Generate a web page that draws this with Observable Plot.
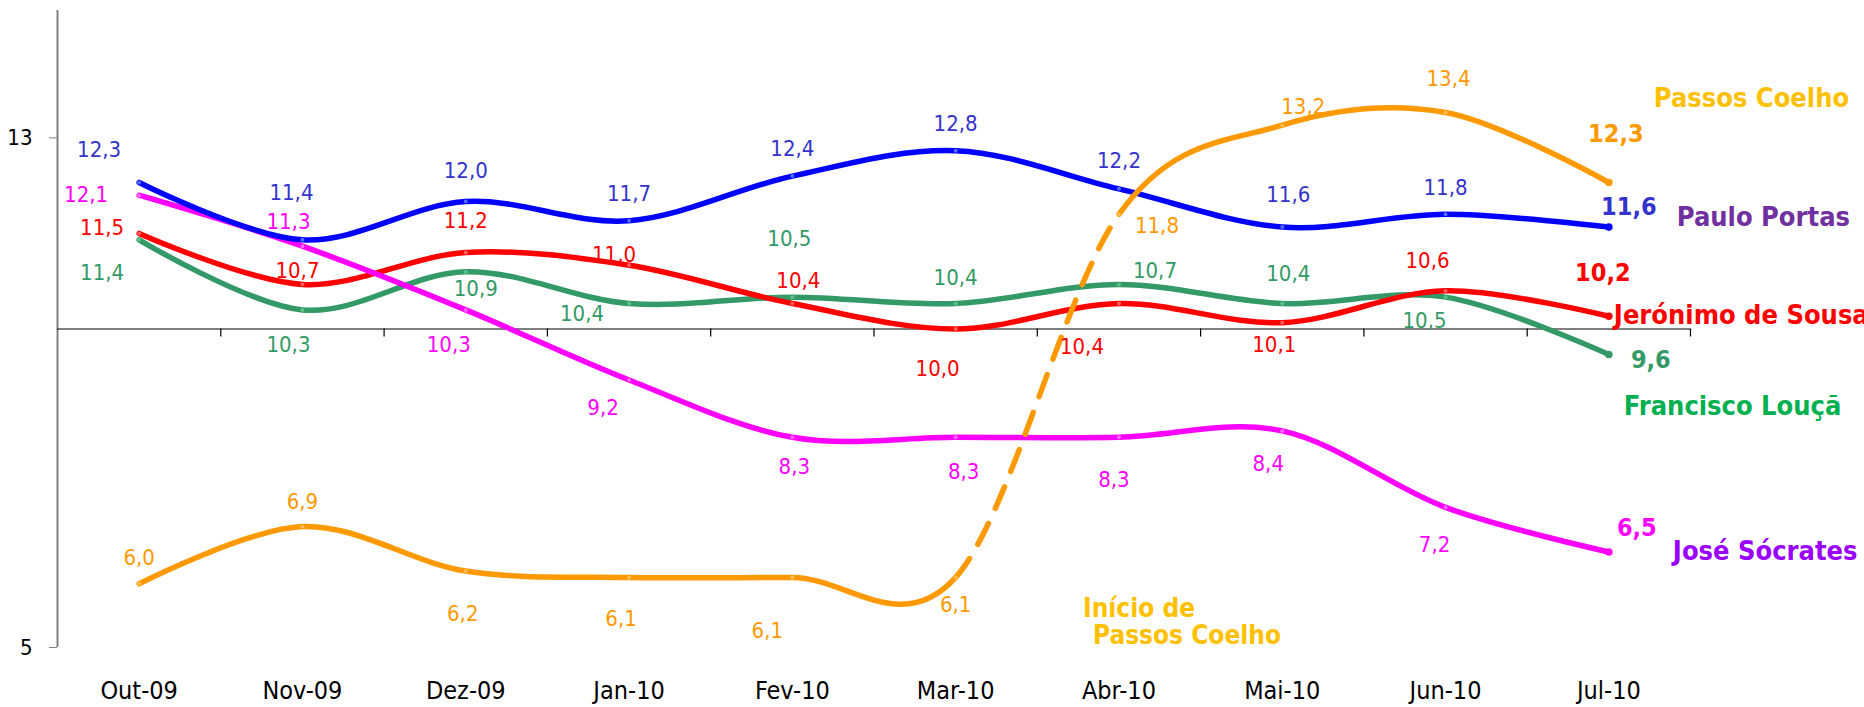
<!DOCTYPE html>
<html>
<head>
<meta charset="utf-8">
<script src="https://cdn.jsdelivr.net/npm/d3@7"></script>
<script src="https://cdn.jsdelivr.net/npm/@observablehq/plot@0.6"></script>
<style>
  html, body { margin: 0; padding: 0; background: #fff; }
  #chart svg { display: block; overflow: visible; }
</style>
</head>
<body>
<div id="chart"></div>
<script>
// ---- data ----
const months = ["Out-09", "Nov-09", "Dez-09", "Jan-10", "Fev-10", "Mar-10", "Abr-10", "Mai-10", "Jun-10", "Jul-10"];
const portas   = [12.3, 11.4, 12.0, 11.7, 12.4, 12.8, 12.2, 11.6, 11.8, 11.6];
const sousa    = [11.5, 10.7, 11.2, 11.0, 10.4, 10.0, 10.4, 10.1, 10.6, 10.2];
const louca    = [11.4, 10.3, 10.9, 10.4, 10.5, 10.4, 10.7, 10.4, 10.5, 9.6];
const socrates = [12.1, 11.3, 10.3, 9.2, 8.3, 8.3, 8.3, 8.4, 7.2, 6.5];
const coelho   = [6.0, 6.9, 6.2, 6.1, 6.1, 6.1, 11.8, 13.2, 13.4, 12.3];
const names = ["Paulo Portas", "Jerónimo de Sousa", "Francisco Louçã", "José Sócrates", "Passos Coelho"];
const yTicks = [5, 13];
const xAxisLevel = 10;
const dashFrom = 5, dashTo = 6; // Mar-10 -> Abr-10 segment of Passos Coelho shown dashed
const annotation = ["Início de", "Passos Coelho"];

// ---- styling (label offsets in px, colours) ----
const labelOffsets = {
  portas:   [[-40,-33],[-11,-47],[0,-31],[0,-27],[0,-27],[0,-27],[0,-28],[6,-32],[0,-26],[20,-20]],
  sousa:    [[-37,-5],[-5,-13],[0,-32],[-15,-10],[6,-23],[-18,40],[-37,43],[-8,22],[-18,-30],[-6,-43]],
  louca:    [[-37,33],[-14,35],[10,17],[-47,10],[-3,-58],[0,-26],[36,-13],[6,-30],[-21,24],[42,6]],
  socrates: [[-53,0],[-14,-24],[-17,35],[-26,28],[2,30],[8,35],[-5,43],[-14,33],[-11,38],[28,-24]],
  coelho:   [[0,-26],[0,-25],[-3,43],[-8,42],[-25,54],[0,28],[38,12],[21,-18],[3,-33],[7,-48]]
};
const nameOffsets = {portas: [68,-10], sousa: [5,-1], louca: [15,52], socrates: [64,-1], coelho: [45,-84]};

const series = [
  {key: "louca",    values: louca,    name: names[2], line: "#339966", label: "#339966", nameColor: "#00B050", dot: "#5fbf8c"},
  {key: "sousa",    values: sousa,    name: names[1], line: "#FF0000", label: "#FF0000", nameColor: "#FF0000", dot: "#ff6060"},
  {key: "socrates", values: socrates, name: names[3], line: "#FF00FF", label: "#FF00FF", nameColor: "#9900FF", dot: "#ff66ff"},
  {key: "portas",   values: portas,   name: names[0], line: "#0000FF", label: "#3333CC", nameColor: "#7030A0", dot: "#4d6dff"},
  {key: "coelho",   values: coelho,   name: names[4], line: "#FF9900", label: "#FF9900", nameColor: "#FFC000", dot: "#ffbb55"}
];

const FONT = "'DejaVu Sans Condensed', 'DejaVu Sans', sans-serif";
const fmt = v => v.toFixed(1).replace(".", ",");
const idx = d3.range(months.length);
const last = months.length - 1;

const marks = [];
// axes
marks.push(Plot.ruleX([-0.5], {stroke: "#808080", strokeWidth: 2}));
marks.push(Plot.ruleY([xAxisLevel], {stroke: "#000", strokeWidth: 1.2}));
marks.push(Plot.ruleX(idx.map(i => i + 0.5), {x: d => d, y1: xAxisLevel, y2: xAxisLevel, insetBottom: -8, stroke: "#000", strokeWidth: 1.2}));
marks.push(Plot.axisY(yTicks, {anchor: "left", tickSize: 8, tickPadding: 17, fontSize: 22, stroke: "#808080", fill: "#000", tickFormat: d => String(d), label: null}));
marks.push(Plot.axisX(idx, {anchor: "bottom", tickSize: 0, tickPadding: 34, fontSize: 25, fill: "#000", tickFormat: i => months[i], label: null}));

// lines
for (const s of series) {
  const data = s.values.map((v, i) => ({i, v}));
  marks.push(Plot.line(data, {x: "i", y: "v", stroke: s.line, strokeWidth: 5.5, curve: "cardinal",
    strokeLinecap: "round", strokeLinejoin: "round"}));
  marks.push(Plot.dot(data.slice(0, last), {x: "i", y: "v", r: 2, fill: s.dot, stroke: "none"}));
  marks.push(Plot.dot(data.slice(last), {x: "i", y: "v", r: 3.8, fill: s.line, stroke: "none"}));
}
// value labels
for (const s of series) {
  s.values.forEach((v, i) => {
    const [dx, dy] = labelOffsets[s.key][i];
    const isEnd = i === last;
    marks.push(Plot.text([{i, v}], {x: "i", y: "v", text: d => fmt(d.v), dx, dy,
      fill: s.label, fontSize: isEnd ? 25 : 22, fontWeight: isEnd ? "bold" : "normal", fontFamily: FONT}));
  });
  const [ndx, ndy] = nameOffsets[s.key];
  marks.push(Plot.text([{i: last, v: s.values[last]}], {x: "i", y: "v", text: () => s.name, dx: ndx, dy: ndy,
    textAnchor: "start", fill: s.nameColor, fontSize: 27, fontWeight: "bold", fontFamily: FONT}));
}
// annotation
marks.push(Plot.text([{i: dashTo, v: yTicks[0]}], {x: "i", y: "v", text: () => annotation[0], dx: -36, dy: -39,
  textAnchor: "start", fill: "#FFC000", fontSize: 26, fontWeight: "bold", fontFamily: FONT}));
marks.push(Plot.text([{i: dashTo, v: yTicks[0]}], {x: "i", y: "v", text: () => annotation[1], dx: -26, dy: -12,
  textAnchor: "start", fill: "#FFC000", fontSize: 26, fontWeight: "bold", fontFamily: FONT}));

const chart = Plot.plot({
  width: 1864,
  height: 707,
  marginLeft: 57,
  marginRight: 174,
  marginTop: 10,
  marginBottom: 60,
  style: {fontFamily: FONT, fontSize: "22px", background: "transparent", color: "#000", overflow: "visible"},
  x: {type: "linear", domain: [-0.5, 9.5], label: null},
  y: {type: "linear", domain: [5, 15], label: null},
  marks
});
document.getElementById("chart").append(chart);

// Dash the Mar-10 -> Abr-10 stretch of the Passos Coelho curve
(function dashSegment() {
  const groups = Array.from(chart.querySelectorAll('g[aria-label="line"]'));
  let path = null;
  for (const g of groups) {
    const p = g.querySelector("path");
    if (!p) continue;
    const st = (g.getAttribute("stroke") || p.getAttribute("stroke") || "").toUpperCase();
    if (st === "#FF9900") path = p;
  }
  if (!path) return;
  const xs = chart.scale("x");
  const total = path.getTotalLength();
  const lenAtX = px => {
    let lo = 0, hi = total;
    for (let k = 0; k < 50; k++) {
      const mid = (lo + hi) / 2;
      if (path.getPointAtLength(mid).x < px) lo = mid; else hi = mid;
    }
    return (lo + hi) / 2;
  };
  const L1 = lenAtX(xs.apply(dashFrom));
  const L2 = lenAtX(xs.apply(dashTo));
  const dash = 24, gap = 17;
  const n = Math.max(1, Math.round((L2 - L1) / (dash + gap)));
  const k = (L2 - L1) / (n * (dash + gap));
  const arr = [L1 + dash * k, gap * k];
  for (let j = 1; j < n; j++) arr.push(dash * k, gap * k);
  arr.push(total - L2 + 1, 0);
  path.setAttribute("stroke-dasharray", arr.map(v => v.toFixed(2)).join(" "));
  path.setAttribute("stroke-linecap", "round");
})();
</script>
</body>
</html>
